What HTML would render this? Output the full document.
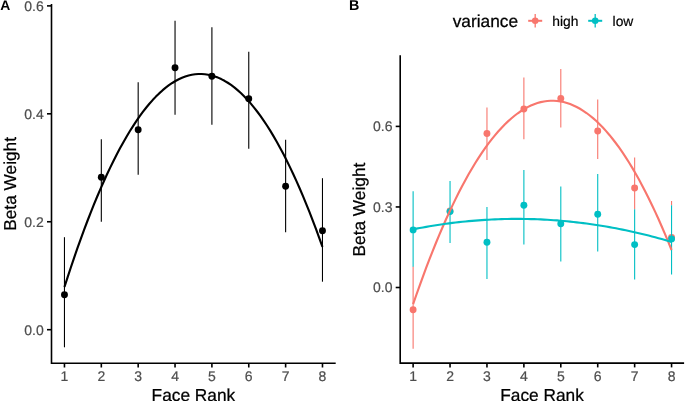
<!DOCTYPE html>
<html><head><meta charset="utf-8"><title>chart</title>
<style>html,body{margin:0;padding:0;background:#fff}body{width:685px;height:401px;overflow:hidden;will-change:transform;font-family:"Liberation Sans",sans-serif}</style></head>
<body>
<svg width="685" height="401" viewBox="0 0 685 401" style="display:block;text-rendering:geometricPrecision">
<rect width="685" height="401" fill="#fff"/>
<g stroke="#000" stroke-width="1.1">
<line x1="64.46" x2="64.46" y1="237.20" y2="347.30"/>
<line x1="101.32" x2="101.32" y1="139.20" y2="221.70"/>
<line x1="138.18" x2="138.18" y1="82.20" y2="174.70"/>
<line x1="175.04" x2="175.04" y1="20.70" y2="114.70"/>
<line x1="211.90" x2="211.90" y1="27.20" y2="124.70"/>
<line x1="248.76" x2="248.76" y1="51.70" y2="148.70"/>
<line x1="285.62" x2="285.62" y1="139.70" y2="232.20"/>
<line x1="322.48" x2="322.48" y1="178.20" y2="281.70"/>
</g>
<g fill="#000">
<circle cx="64.46" cy="294.70" r="3.45"/>
<circle cx="101.32" cy="177.20" r="3.45"/>
<circle cx="138.18" cy="129.70" r="3.45"/>
<circle cx="175.04" cy="67.70" r="3.45"/>
<circle cx="211.90" cy="76.20" r="3.45"/>
<circle cx="248.76" cy="98.70" r="3.45"/>
<circle cx="285.62" cy="186.20" r="3.45"/>
<circle cx="322.48" cy="230.70" r="3.45"/>
</g>
<path d="M64.46,286.97 L67.73,276.84 L70.99,266.96 L74.26,257.32 L77.52,247.93 L80.79,238.79 L84.06,229.89 L87.32,221.25 L90.59,212.84 L93.85,204.69 L97.12,196.78 L100.39,189.12 L103.65,181.70 L106.92,174.53 L110.19,167.61 L113.45,160.94 L116.72,154.51 L119.98,148.33 L123.25,142.39 L126.52,136.70 L129.78,131.26 L133.05,126.07 L136.31,121.12 L139.58,116.42 L142.85,111.96 L146.11,107.76 L149.38,103.79 L152.64,100.08 L155.91,96.61 L159.18,93.39 L162.44,90.42 L165.71,87.69 L168.97,85.21 L172.24,82.98 L175.51,80.99 L178.77,79.25 L182.04,77.75 L185.30,76.51 L188.57,75.51 L191.84,74.75 L195.10,74.25 L198.37,73.99 L201.64,73.97 L204.90,74.21 L208.17,74.69 L211.43,75.41 L214.70,76.39 L217.97,77.61 L221.23,79.07 L224.50,80.79 L227.76,82.75 L231.03,84.96 L234.30,87.41 L237.56,90.11 L240.83,93.06 L244.09,96.25 L247.36,99.69 L250.63,103.38 L253.89,107.32 L257.16,111.50 L260.42,115.92 L263.69,120.60 L266.96,125.52 L270.22,130.69 L273.49,136.10 L276.75,141.76 L280.02,147.67 L283.29,153.83 L286.55,160.23 L289.82,166.88 L293.09,173.77 L296.35,180.92 L299.62,188.30 L302.88,195.94 L306.15,203.82 L309.42,211.95 L312.68,220.33 L315.95,228.95 L319.21,237.82 L322.48,246.93" fill="none" stroke="#000" stroke-width="2.13" stroke-linejoin="round"/>
<path d="M51.5,4.9 V363.2 H334.9" fill="none" stroke="#000" stroke-width="1.6" stroke-linecap="square"/>
<g stroke="#000" stroke-width="1.6">
<line x1="47.00" x2="51.5" y1="329.70" y2="329.70"/>
<line x1="47.00" x2="51.5" y1="221.76" y2="221.76"/>
<line x1="47.00" x2="51.5" y1="113.82" y2="113.82"/>
<line x1="47.00" x2="51.5" y1="5.88" y2="5.88"/>
<line x1="64.46" x2="64.46" y1="363.2" y2="367.50"/>
<line x1="101.32" x2="101.32" y1="363.2" y2="367.50"/>
<line x1="138.18" x2="138.18" y1="363.2" y2="367.50"/>
<line x1="175.04" x2="175.04" y1="363.2" y2="367.50"/>
<line x1="211.90" x2="211.90" y1="363.2" y2="367.50"/>
<line x1="248.76" x2="248.76" y1="363.2" y2="367.50"/>
<line x1="285.62" x2="285.62" y1="363.2" y2="367.50"/>
<line x1="322.48" x2="322.48" y1="363.2" y2="367.50"/>
</g>
<g font-family="Liberation Sans, sans-serif" font-size="14px" fill="#4D4D4D" stroke="#4D4D4D" stroke-width="0.2">
<text x="43.80" y="334.50" text-anchor="end">0.0</text>
<text x="43.80" y="226.56" text-anchor="end">0.2</text>
<text x="43.80" y="118.62" text-anchor="end">0.4</text>
<text x="43.80" y="10.68" text-anchor="end">0.6</text>
<text x="64.46" y="380.8" text-anchor="middle">1</text>
<text x="101.32" y="380.8" text-anchor="middle">2</text>
<text x="138.18" y="380.8" text-anchor="middle">3</text>
<text x="175.04" y="380.8" text-anchor="middle">4</text>
<text x="211.90" y="380.8" text-anchor="middle">5</text>
<text x="248.76" y="380.8" text-anchor="middle">6</text>
<text x="285.62" y="380.8" text-anchor="middle">7</text>
<text x="322.48" y="380.8" text-anchor="middle">8</text>
</g>
<g font-family="Liberation Sans, sans-serif" font-size="17.3px" fill="#000" stroke="#000" stroke-width="0.25">
<text x="193.4" y="400.55" text-anchor="middle">Face Rank</text>
<text transform="translate(16.3,183.9) rotate(-90)" text-anchor="middle">Beta Weight</text>
</g>
<text x="0.3" y="9.85" font-family="Liberation Sans, sans-serif" font-size="13.9px" font-weight="bold" fill="#000">A</text>
<g stroke="#F8766D" stroke-width="1.1">
<line x1="413.12" x2="413.12" y1="266.4" y2="348.7"/>
<line x1="450.04" x2="450.04" y1="211" y2="211"/>
<line x1="486.96" x2="486.96" y1="107.5" y2="160"/>
<line x1="523.88" x2="523.88" y1="77.5" y2="139.2"/>
<line x1="560.80" x2="560.80" y1="69.1" y2="127.5"/>
<line x1="597.72" x2="597.72" y1="99.4" y2="159"/>
<line x1="634.64" x2="634.64" y1="157.5" y2="209.3"/>
<line x1="671.56" x2="671.56" y1="201.1" y2="205.3"/>
</g>
<g fill="#F8766D">
<circle cx="413.12" cy="309.8" r="3.45"/>
<circle cx="450.04" cy="211" r="3.45"/>
<circle cx="486.96" cy="133.5" r="3.45"/>
<circle cx="523.88" cy="109" r="3.45"/>
<circle cx="560.80" cy="98.5" r="3.45"/>
<circle cx="597.72" cy="131" r="3.45"/>
<circle cx="634.64" cy="188" r="3.45"/>
<circle cx="671.56" cy="237.4" r="3.45"/>
</g>
<g stroke="#00BFC4" stroke-width="1.1">
<line x1="413.12" x2="413.12" y1="191.30" y2="266.80"/>
<line x1="450.04" x2="450.04" y1="180.90" y2="242.90"/>
<line x1="486.96" x2="486.96" y1="207.10" y2="278.90"/>
<line x1="523.88" x2="523.88" y1="170.00" y2="244.40"/>
<line x1="560.80" x2="560.80" y1="186.50" y2="261.40"/>
<line x1="597.72" x2="597.72" y1="174.00" y2="251.40"/>
<line x1="634.64" x2="634.64" y1="209.30" y2="279.40"/>
<line x1="671.56" x2="671.56" y1="205.30" y2="274.40"/>
</g>
<g fill="#00BFC4">
<circle cx="413.12" cy="229.90" r="3.45"/>
<circle cx="450.04" cy="211.60" r="3.45"/>
<circle cx="486.96" cy="242.30" r="3.45"/>
<circle cx="523.88" cy="205.30" r="3.45"/>
<circle cx="560.80" cy="223.80" r="3.45"/>
<circle cx="597.72" cy="214.30" r="3.45"/>
<circle cx="634.64" cy="244.60" r="3.45"/>
<circle cx="671.56" cy="238.90" r="3.45"/>
</g>
<path d="M413.12,304.19 L416.39,294.74 L419.66,285.52 L422.93,276.52 L426.21,267.74 L429.48,259.19 L432.75,250.86 L436.02,242.76 L439.29,234.88 L442.56,227.23 L445.83,219.80 L449.11,212.60 L452.38,205.62 L455.65,198.87 L458.92,192.34 L462.19,186.04 L465.46,179.96 L468.73,174.10 L472.01,168.48 L475.28,163.07 L478.55,157.89 L481.82,152.93 L485.09,148.20 L488.36,143.70 L491.63,139.42 L494.90,135.36 L498.18,131.53 L501.45,127.92 L504.72,124.54 L507.99,121.38 L511.26,118.45 L514.53,115.74 L517.80,113.26 L521.08,111.00 L524.35,108.96 L527.62,107.15 L530.89,105.57 L534.16,104.21 L537.43,103.07 L540.70,102.16 L543.98,101.48 L547.25,101.02 L550.52,100.78 L553.79,100.77 L557.06,100.98 L560.33,101.42 L563.60,102.08 L566.88,102.97 L570.15,104.08 L573.42,105.42 L576.69,106.98 L579.96,108.77 L583.23,110.78 L586.50,113.01 L589.78,115.47 L593.05,118.16 L596.32,121.07 L599.59,124.20 L602.86,127.56 L606.13,131.15 L609.40,134.95 L612.67,138.99 L615.95,143.25 L619.22,147.73 L622.49,152.44 L625.76,157.37 L629.03,162.52 L632.30,167.91 L635.57,173.51 L638.85,179.34 L642.12,185.40 L645.39,191.68 L648.66,198.19 L651.93,204.92 L655.20,211.87 L658.47,219.05 L661.75,226.45 L665.02,234.08 L668.29,241.94 L671.56,250.01" fill="none" stroke="#F8766D" stroke-width="2.13"/>
<path d="M413.12,229.31 L416.39,228.66 L419.66,228.04 L422.93,227.43 L426.21,226.85 L429.48,226.29 L432.75,225.75 L436.02,225.22 L439.29,224.72 L442.56,224.24 L445.83,223.78 L449.11,223.34 L452.38,222.93 L455.65,222.53 L458.92,222.15 L462.19,221.79 L465.46,221.46 L468.73,221.14 L472.01,220.85 L475.28,220.58 L478.55,220.32 L481.82,220.09 L485.09,219.88 L488.36,219.69 L491.63,219.51 L494.90,219.36 L498.18,219.24 L501.45,219.13 L504.72,219.04 L507.99,218.97 L511.26,218.92 L514.53,218.90 L517.80,218.89 L521.08,218.91 L524.35,218.94 L527.62,219.00 L530.89,219.07 L534.16,219.17 L537.43,219.29 L540.70,219.43 L543.98,219.59 L547.25,219.77 L550.52,219.97 L553.79,220.19 L557.06,220.43 L560.33,220.69 L563.60,220.98 L566.88,221.28 L570.15,221.61 L573.42,221.95 L576.69,222.32 L579.96,222.70 L583.23,223.11 L586.50,223.54 L589.78,223.99 L593.05,224.45 L596.32,224.94 L599.59,225.45 L602.86,225.99 L606.13,226.54 L609.40,227.11 L612.67,227.70 L615.95,228.31 L619.22,228.95 L622.49,229.60 L625.76,230.28 L629.03,230.97 L632.30,231.69 L635.57,232.43 L638.85,233.19 L642.12,233.96 L645.39,234.76 L648.66,235.58 L651.93,236.42 L655.20,237.28 L658.47,238.17 L661.75,239.07 L665.02,239.99 L668.29,240.93 L671.56,241.90" fill="none" stroke="#00BFC4" stroke-width="2.13"/>
<path d="M400.2,56.05 V363.1 H683.3" fill="none" stroke="#000" stroke-width="1.6" stroke-linecap="square"/>
<g stroke="#000" stroke-width="1.6">
<line x1="395.70" x2="400.2" y1="287.50" y2="287.50"/>
<line x1="395.70" x2="400.2" y1="206.95" y2="206.95"/>
<line x1="395.70" x2="400.2" y1="126.40" y2="126.40"/>
<line x1="413.12" x2="413.12" y1="363.1" y2="367.40"/>
<line x1="450.04" x2="450.04" y1="363.1" y2="367.40"/>
<line x1="486.96" x2="486.96" y1="363.1" y2="367.40"/>
<line x1="523.88" x2="523.88" y1="363.1" y2="367.40"/>
<line x1="560.80" x2="560.80" y1="363.1" y2="367.40"/>
<line x1="597.72" x2="597.72" y1="363.1" y2="367.40"/>
<line x1="634.64" x2="634.64" y1="363.1" y2="367.40"/>
<line x1="671.56" x2="671.56" y1="363.1" y2="367.40"/>
</g>
<g font-family="Liberation Sans, sans-serif" font-size="14px" fill="#4D4D4D" stroke="#4D4D4D" stroke-width="0.2">
<text x="392.50" y="292.30" text-anchor="end">0.0</text>
<text x="392.50" y="211.75" text-anchor="end">0.3</text>
<text x="392.50" y="131.20" text-anchor="end">0.6</text>
<text x="413.12" y="380.8" text-anchor="middle">1</text>
<text x="450.04" y="380.8" text-anchor="middle">2</text>
<text x="486.96" y="380.8" text-anchor="middle">3</text>
<text x="523.88" y="380.8" text-anchor="middle">4</text>
<text x="560.80" y="380.8" text-anchor="middle">5</text>
<text x="597.72" y="380.8" text-anchor="middle">6</text>
<text x="634.64" y="380.8" text-anchor="middle">7</text>
<text x="671.56" y="380.8" text-anchor="middle">8</text>
</g>
<g font-family="Liberation Sans, sans-serif" font-size="17.3px" fill="#000" stroke="#000" stroke-width="0.25">
<text x="542.1" y="400.55" text-anchor="middle">Face Rank</text>
<text transform="translate(365.4,209.6) rotate(-90)" text-anchor="middle">Beta Weight</text>
<text x="452.7" y="26.9">variance</text>
</g>
<text x="348.9" y="9.85" font-family="Liberation Sans, sans-serif" font-size="14.3px" font-weight="bold" fill="#000">B</text>
<g stroke="#F8766D" stroke-width="1.6"><line x1="528.2" x2="542.2" y1="20.8" y2="20.8" stroke-width="2"/><line x1="535.2" x2="535.2" y1="14.1" y2="27.4" stroke-width="1.3"/></g>
<circle cx="535.2" cy="20.8" r="3.3" fill="#F8766D"/>
<text x="552.2" y="25.7" font-family="Liberation Sans, sans-serif" font-size="13.85px" fill="#000" stroke="#000" stroke-width="0.2">high</text>
<g stroke="#00BFC4" stroke-width="1.6"><line x1="588.2" x2="602.2" y1="20.8" y2="20.8" stroke-width="2"/><line x1="595.2" x2="595.2" y1="14.1" y2="27.4" stroke-width="1.3"/></g>
<circle cx="595.2" cy="20.8" r="3.3" fill="#00BFC4"/>
<text x="612.6" y="25.7" font-family="Liberation Sans, sans-serif" font-size="13.85px" fill="#000" stroke="#000" stroke-width="0.2">low</text>
</svg>
</body></html>
